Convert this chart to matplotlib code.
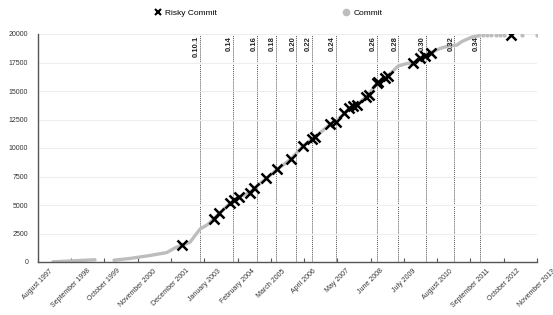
import matplotlib
matplotlib.use('Agg')
import matplotlib.pyplot as plt
import matplotlib.dates as mdates
from matplotlib.lines import Line2D
import pandas as pd

plt.rcParams['font.family'] = ['Liberation Sans', 'DejaVu Sans']

# commits over time, two segments + sparse tail
commit_dates_a = ['1998-01-26', '1998-08-18', '1999-06-10']
commit_counts_a = [20, 90, 200]

commit_dates_b = ['2000-01-22', '2000-07-31', '2001-03-25', '2001-10-12', '2002-01-15',
                  '2002-04-08', '2002-07-12', '2002-11-10', '2003-02-03', '2003-04-23',
                  '2003-06-24', '2003-11-03', '2004-02-17', '2004-06-28', '2004-08-14',
                  '2005-01-04', '2005-05-15', '2005-10-27', '2006-03-18', '2006-07-05',
                  '2006-08-08', '2007-02-03', '2007-04-16', '2007-07-20', '2007-09-17',
                  '2007-12-20', '2008-05-01', '2008-08-15', '2008-11-17', '2009-02-10',
                  '2009-04-23', '2009-08-07', '2009-10-16', '2010-01-08', '2010-03-11',
                  '2010-05-19', '2010-09-02', '2010-12-06', '2011-03-25', '2011-05-22',
                  '2011-09-20', '2011-12-24']
commit_counts_b = [160, 310, 570, 830, 1230,
                   1490, 1710, 2890, 3250, 3770,
                   4250, 5130, 5700, 6100, 6450,
                   7320, 8110, 9030, 10170, 10790,
                   10960, 12060, 12320, 13020, 13460,
                   13770, 14650, 15650, 16090, 16660,
                   17190, 17410, 17450, 17850, 18070,
                   18370, 18720, 18940, 19030, 19340,
                   19730, 19860]

tail_dates = ['2012-01-26', '2012-03-14', '2012-05-01', '2012-07-01', '2012-08-18',
              '2012-10-05', '2013-05-01', '2013-10-27']
tail_counts = [19930, 19930, 19930, 19930, 19930, 19930, 19930, 19930]

risky_dates = ['2002-04-08', '2003-04-23', '2003-06-28', '2003-11-03', '2003-12-20',
               '2004-02-20', '2004-06-28', '2004-08-14', '2005-01-04', '2005-05-19',
               '2005-10-23', '2006-03-22', '2006-07-01', '2006-08-11', '2007-02-03',
               '2007-04-16', '2007-07-20', '2007-09-20', '2007-11-03', '2007-12-16',
               '2008-04-05', '2008-05-15', '2008-08-11', '2008-08-29', '2008-11-17',
               '2008-12-24', '2009-10-20', '2010-01-08', '2010-03-11', '2010-05-15',
               '2012-12-24']
risky_counts = [1530, 3770, 4270, 5150, 5450,
                5730, 6080, 6460, 7340, 8130,
                9030, 10200, 10790, 10990, 12080,
                12300, 13040, 13480, 13680, 13770,
                14470, 14690, 15670, 15800, 16110,
                16310, 17430, 17860, 18070, 18360,
                19910]

versions = ['0.10.1', '0.14', '0.16', '0.18', '0.20', '0.22', '0.24',
            '0.26', '0.28', '0.30', '0.32', '0.34']
version_dates = ['2002-11-10', '2003-12-10', '2004-09-22', '2005-05-01', '2006-01-01',
                 '2006-07-07', '2007-04-10', '2008-08-12', '2009-04-26', '2010-03-17',
                 '2011-02-21', '2011-12-23']

tick_dates = pd.date_range('1997-08-01', periods=16, freq='13MS')

fig = plt.figure(figsize=(5.53, 3.15), dpi=100)
ax = fig.add_axes([38/553, 1 - 262/315, 499/553, 228/315])

grey = '#bdbdbd'
ax.plot(pd.to_datetime(commit_dates_a), commit_counts_a, color=grey, lw=2.4,
        solid_capstyle='round', zorder=2)
ax.plot(pd.to_datetime(commit_dates_b), commit_counts_b, color=grey, lw=2.4,
        solid_capstyle='round', zorder=2)
ax.plot(pd.to_datetime(tail_dates), tail_counts, 'o', color=grey, ms=2, zorder=2)

ax.plot(pd.to_datetime(risky_dates), risky_counts, 'x', color='black', ms=6.5,
        mew=1.8, zorder=4)

for v, d in zip(versions, pd.to_datetime(version_dates)):
    ax.axvline(d, color='#555555', ls=(0, (1, 1)), lw=0.7, zorder=1)
    ax.text(d, 19850, v, rotation=90, ha='right', va='top', fontsize=5.5,
            fontweight='bold', color='#222222')

ax.set_xlim(tick_dates[0], tick_dates[-1])
ax.set_ylim(0, 20000)
ax.set_yticks(range(0, 20001, 2500))
ax.set_xticks(tick_dates)
ax.xaxis.set_major_formatter(mdates.DateFormatter('%B %Y'))
ax.tick_params(axis='x', labelsize=5, rotation=45, direction='in', length=3,
               color='#555555', labelcolor='#333333', pad=4)
ax.tick_params(axis='y', labelsize=5, length=0, labelcolor='#333333', pad=7)

ax.grid(axis='y', color='#eeeeee', lw=0.8, zorder=0)
for s in ['top', 'right']:
    ax.spines[s].set_visible(False)
for s in ['left', 'bottom']:
    ax.spines[s].set_color('#555555')
    ax.spines[s].set_linewidth(1)

handles = [Line2D([], [], marker='x', ls='', color='black', ms=4.5, mew=1.5),
           Line2D([], [], marker='o', ls='', color=grey, ms=4.5)]
fig.legend(handles, ['Risky Commit', 'Commit'], loc='center',
           bbox_to_anchor=(268/553, 1 - 13/315), ncol=2, frameon=False,
           fontsize=6, handlelength=1, handletextpad=0.4, columnspacing=15)

fig.savefig('out.png', dpi=100)
